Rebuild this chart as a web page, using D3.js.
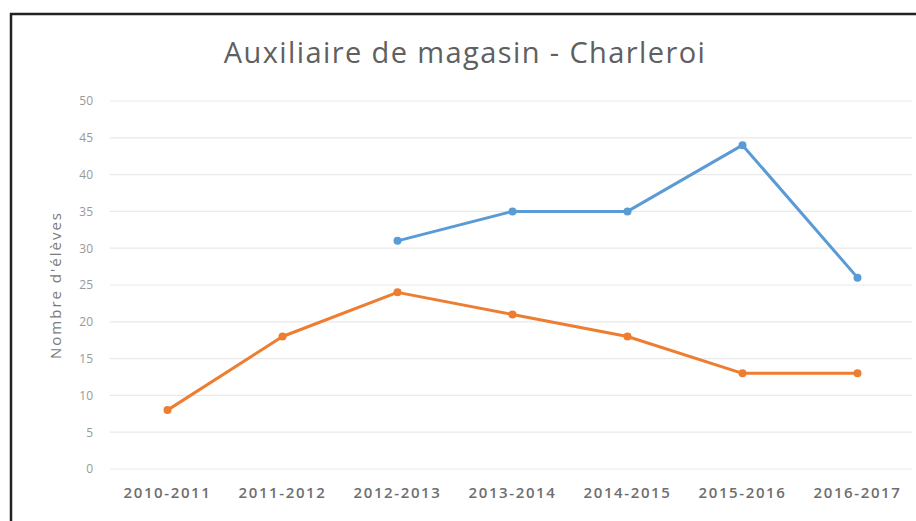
<!DOCTYPE html>
<html>
<head>
<meta charset="utf-8">
<script src="https://cdn.jsdelivr.net/npm/d3@7"></script>
<style>
  html, body { margin: 0; padding: 0; background: #fff; overflow: hidden; }
  svg { display: block; }
</style>
</head>
<body>
<script>
// School years and student counts for the two series
const years = ["2010-2011", "2011-2012", "2012-2013", "2013-2014", "2014-2015", "2015-2016", "2016-2017"];
const seriesBlue = [null, null, 31, 35, 35, 44, 26];
const seriesOrange = [8, 18, 24, 21, 18, 13, 13];
const yTicks = [0, 5, 10, 15, 20, 25, 30, 35, 40, 45, 50];
const title = "Auxiliaire de magasin - Charleroi";
const yTitle = "Nombre d'élèves";

const W = 916, H = 521;
const svg = d3.select("body").append("svg").attr("width", W).attr("height", H);

svg.append("rect").attr("width", W).attr("height", H).attr("fill", "#fff");

// Frame: left and top edges
svg.append("line").attr("x1", 11).attr("x2", 11).attr("y1", 13).attr("y2", H)
  .attr("stroke", "#222").attr("stroke-width", 2.5);
svg.append("line").attr("x1", 10).attr("x2", W).attr("y1", 14).attr("y2", 14)
  .attr("stroke", "#222").attr("stroke-width", 2.5);

const x = d3.scaleBand().domain(years).range([110, 915]);
const y = d3.scaleLinear().domain([0, 50]).range([469, 101]);

// Horizontal gridlines
svg.append("g").selectAll("line").data(yTicks).join("line")
  .attr("x1", 110).attr("x2", 912)
  .attr("y1", d => y(d)).attr("y2", d => y(d))
  .attr("stroke", "#e9e9e9").attr("stroke-width", 1.2);

// Y axis tick labels
const yAxis = d3.axisLeft(y).tickValues(yTicks).tickSize(0).tickPadding(0);
const gy = svg.append("g").attr("transform", "translate(93,0)").call(yAxis);
gy.select(".domain").remove();
gy.selectAll("text")
  .attr("font-family", "Open Sans, sans-serif").attr("font-size", 12)
  .attr("fill", "#999");

// X axis category labels
const xAxis = d3.axisBottom(x).tickSize(0).tickPadding(0);
const gx = svg.append("g").attr("transform", "translate(0,487)").call(xAxis);
gx.select(".domain").remove();
gx.selectAll("text")
  .attr("font-family", "Open Sans, sans-serif").attr("font-size", 15)
  .attr("font-weight", 600)
  .attr("letter-spacing", 1.6)
  .attr("fill", "#6e6e6e");

// Title
svg.append("text")
  .attr("x", 465).attr("y", 63)
  .attr("text-anchor", "middle")
  .attr("font-family", "Open Sans, sans-serif").attr("font-size", 29)
  .attr("letter-spacing", 1.4)
  .attr("fill", "#606060")
  .text(title);

// Y axis title
svg.append("text")
  .attr("transform", "translate(61,285) rotate(-90)")
  .attr("text-anchor", "middle")
  .attr("font-family", "Open Sans, sans-serif").attr("font-size", 15)
  .attr("letter-spacing", 2)
  .attr("fill", "#7a7a7a")
  .text(yTitle);

const cx = d => x(d) + x.bandwidth() / 2;
const line = d3.line()
  .defined(d => d.v != null)
  .x(d => cx(d.k))
  .y(d => y(d.v));

function drawSeries(values, color) {
  const data = years.map((k, i) => ({ k, v: values[i] }));
  svg.append("path").datum(data)
    .attr("d", line)
    .attr("fill", "none").attr("stroke", color)
    .attr("stroke-width", 3).attr("stroke-linejoin", "round");
  svg.append("g").selectAll("circle").data(data.filter(d => d.v != null)).join("circle")
    .attr("cx", d => cx(d.k)).attr("cy", d => y(d.v))
    .attr("r", 4).attr("fill", color);
}

drawSeries(seriesBlue, "#5b9bd5");
drawSeries(seriesOrange, "#ed7d31");
</script>
</body>
</html>
